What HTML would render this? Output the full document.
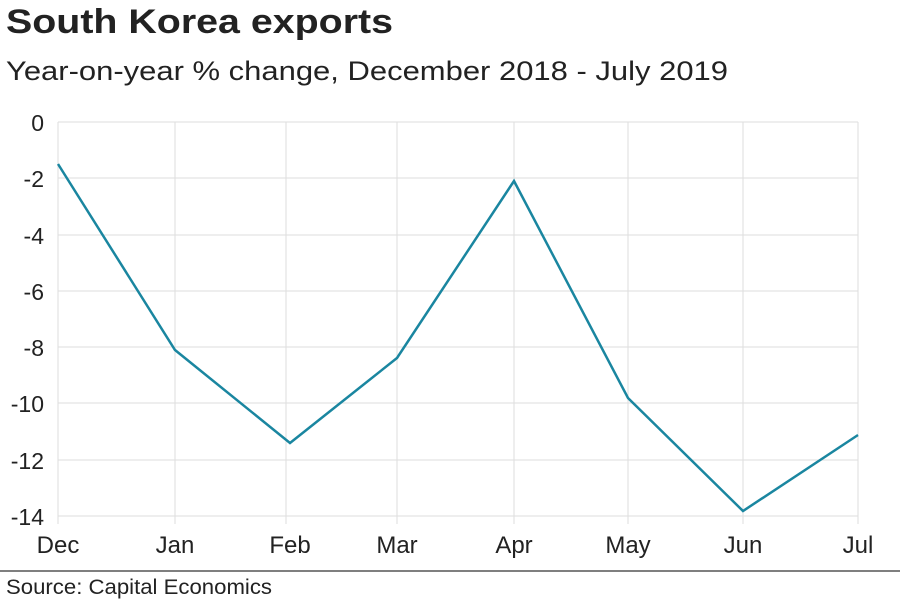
<!DOCTYPE html>
<html><head><style>
body{margin:0;background:#fff;width:900px;height:600px;overflow:hidden;font-family:"Liberation Sans",Arial,sans-serif;}
</style></head><body>
<svg width="900" height="600" xmlns="http://www.w3.org/2000/svg" font-family="Liberation Sans, Arial, sans-serif">
<text x="6" y="33" font-size="34" font-weight="bold" fill="#222" textLength="387" lengthAdjust="spacingAndGlyphs">South Korea exports</text>
<text x="6" y="80" font-size="27" fill="#222" textLength="722" lengthAdjust="spacingAndGlyphs">Year-on-year % change, December 2018 - July 2019</text>
<g stroke="#ddd" stroke-width="1">
<line x1="58" y1="122" x2="858" y2="122"/>
<line x1="58" y1="178" x2="858" y2="178"/>
<line x1="58" y1="235" x2="858" y2="235"/>
<line x1="58" y1="291" x2="858" y2="291"/>
<line x1="58" y1="347" x2="858" y2="347"/>
<line x1="58" y1="403" x2="858" y2="403"/>
<line x1="58" y1="460" x2="858" y2="460"/>
<line x1="58" y1="516" x2="858" y2="516"/>
<line x1="58" y1="122" x2="58" y2="524"/>
<line x1="175" y1="122" x2="175" y2="524"/>
<line x1="286" y1="122" x2="286" y2="524"/>
<line x1="397" y1="122" x2="397" y2="524"/>
<line x1="514" y1="122" x2="514" y2="524"/>
<line x1="628" y1="122" x2="628" y2="524"/>
<line x1="743" y1="122" x2="743" y2="524"/>
<line x1="858" y1="122" x2="858" y2="524"/>
</g>
<g font-size="23" fill="#222" text-anchor="end">
<text x="44" y="131">0</text>
<text x="44" y="187">-2</text>
<text x="44" y="244">-4</text>
<text x="44" y="300">-6</text>
<text x="44" y="356">-8</text>
<text x="44" y="412">-10</text>
<text x="44" y="469">-12</text>
<text x="44" y="525">-14</text>
</g>
<g font-size="24" fill="#222" text-anchor="middle">
<text x="58" y="553">Dec</text>
<text x="175" y="553">Jan</text>
<text x="290" y="553">Feb</text>
<text x="397" y="553">Mar</text>
<text x="514" y="553">Apr</text>
<text x="628" y="553">May</text>
<text x="743" y="553">Jun</text>
<text x="858" y="553">Jul</text>
</g>
<polyline fill="none" stroke="#1a86a0" stroke-width="2.5" points="58,164 175,350 290,443 397,358 514,181 628,398 743,511 858,435"/>
<line x1="0" y1="571" x2="900" y2="571" stroke="#555" stroke-width="1.5"/>
<text x="6" y="594" font-size="21" fill="#222" textLength="266" lengthAdjust="spacingAndGlyphs">Source: Capital Economics</text>
</svg>
</body></html>
